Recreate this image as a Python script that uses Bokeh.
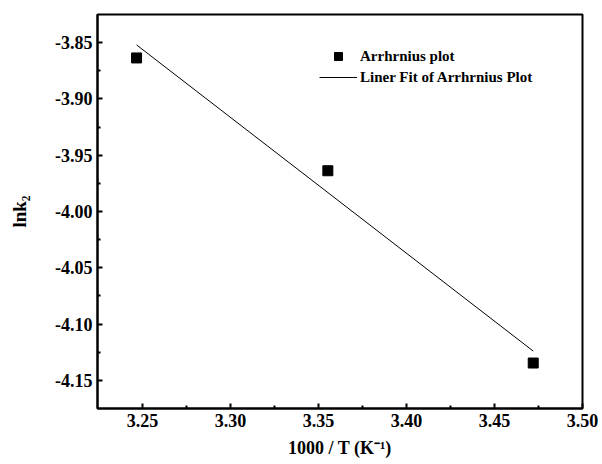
from bokeh.plotting import figure
from bokeh.models import (FixedTicker, PrintfTickFormatter, Legend,
                          LegendItem, Range1d)
from bokeh.embed import file_html
from bokeh.resources import INLINE

# ---- data ----
inv_T = [3.2466, 3.3553, 3.4720]          # 1000/T (K^-1)
ln_k2 = [-3.8636, -3.9638, -4.1346]       # ln k2
fit_x = [3.2466, 3.4720]                  # linear fit end points
fit_y = [-3.852, -4.124]

x_ticks = [3.25, 3.30, 3.35, 3.40, 3.45, 3.50]
x_minor = [3.275, 3.325, 3.375, 3.425, 3.475]
y_ticks = [-3.85, -3.90, -3.95, -4.00, -4.05, -4.10, -4.15]
y_minor = [-3.875, -3.925, -3.975, -4.025, -4.075, -4.125]

series_labels = ["Arrhrnius plot", "Liner Fit of Arrhrnius Plot"]
x_title = "1000 / T (K\u207b\u00b9)"
y_title = "lnk\u2082"

FONT = "Liberation Serif"

p = figure(width=602, height=464, output_backend="svg", toolbar_location=None,
           x_range=Range1d(3.2244, 3.50), y_range=Range1d(-4.175, -3.825),
           min_border_left=97, min_border_right=20, min_border_top=14,
           min_border_bottom=56)
p.xgrid.visible = False
p.ygrid.visible = False
p.outline_line_color = "black"
p.outline_line_width = 2
p.background_fill_color = "white"
p.border_fill_color = "white"

p.xaxis.ticker = FixedTicker(ticks=x_ticks, minor_ticks=x_minor)
p.yaxis.ticker = FixedTicker(ticks=y_ticks, minor_ticks=y_minor)
p.xaxis.formatter = PrintfTickFormatter(format="%.2f")
p.yaxis.formatter = PrintfTickFormatter(format="%.2f")
for ax in (p.xaxis, p.yaxis):
    ax.axis_line_width = 2
    ax.axis_line_color = "black"
    ax.major_tick_in = 5
    ax.major_tick_out = 0
    ax.minor_tick_in = 3
    ax.minor_tick_out = 0
    ax.major_tick_line_width = 2
    ax.minor_tick_line_width = 2
    ax.major_label_text_font = FONT
    ax.major_label_text_font_style = "bold"
    ax.major_label_text_font_size = "18px"
    ax.major_label_text_color = "black"
    ax.major_label_standoff = 5
    ax.axis_label_text_font = FONT
    ax.axis_label_text_font_style = "bold"
    ax.axis_label_text_color = "black"

p.xaxis.axis_label = x_title
p.xaxis.axis_label_text_font_size = "18px"
p.xaxis.axis_label_standoff = 8
p.yaxis.axis_label = y_title
p.yaxis.axis_label_text_font_size = "19px"
p.yaxis.axis_label_standoff = 22

r1 = p.scatter(inv_T, ln_k2, marker="square", size=10, color="black")
r2 = p.line(fit_x, fit_y, line_color="black", line_width=1)

common = dict(padding=0, margin=0, glyph_width=38, label_standoff=3,
              border_line_color=None, background_fill_alpha=0,
              label_text_font=FONT, label_text_font_style="bold",
              label_text_font_size="15px", label_text_color="black")
leg1 = Legend(items=[LegendItem(label=series_labels[0], renderers=[r1])],
              location=(222, 342), glyph_height=20, label_height=20, **common)
leg2 = Legend(items=[LegendItem(label=series_labels[1], renderers=[r2])],
              location=(222, 321), glyph_height=20, label_height=20, **common)
p.add_layout(leg1)
p.add_layout(leg2)

open("out.html", "w").write(file_html(p, INLINE))
